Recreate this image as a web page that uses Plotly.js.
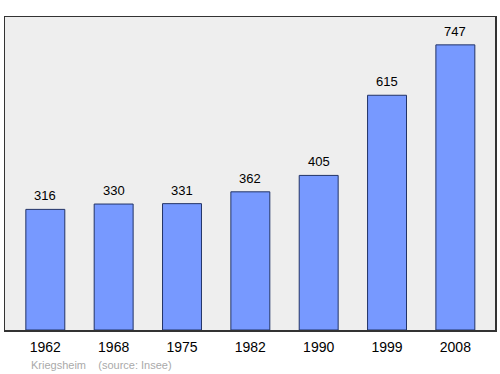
<!DOCTYPE html>
<html><head><meta charset="utf-8">
<script src="https://cdn.plot.ly/plotly-3.0.1.min.js"></script>
<style>body{margin:0;padding:0;}#chart{width:500px;height:374px;}</style>
</head><body><div id="chart"></div>
<script>
const years = ["1962","1968","1975","1982","1990","1999","2008"];
const population = [316,330,331,362,405,615,747];
const labels = population.map(String);

const FONT = "Liberation Sans, Arial, sans-serif";
const trace = {
  type: "bar", x: years, y: population,
  marker: {color: "#7799ff", line: {color: "#223366", width: 1}},
  width: 0.57, hoverinfo: "none"
};
const valueLabels = years.map((yr, i) => ({
  x: i, y: population[i], text: labels[i], xref: "x", yref: "y",
  showarrow: false, xanchor: "center", yanchor: "bottom", yshift: 4,
  font: {family: FONT, size: 13, color: "#000"}
}));
const layout = {
  width: 500, height: 374,
  margin: {l: 5, r: 5, t: 17, b: 44},
  paper_bgcolor: "#ffffff", plot_bgcolor: "#eeeeee",
  showlegend: false,
  xaxis: {type: "category", range: [-0.59, 6.58], showline: true, mirror: true,
    linecolor: "#333", linewidth: 1.5, ticks: "", showgrid: false, ticklabelstandoff: 4,
    tickfont: {family: FONT, size: 14, color: "#000"}},
  yaxis: {range: [0, 820], showline: true, mirror: true, linecolor: "#333", linewidth: 1.5,
    showticklabels: false, ticks: "", showgrid: false, zeroline: false},
  annotations: valueLabels.concat([{text: "Kriegsheim&nbsp;&nbsp;&nbsp;&nbsp;(source: Insee)", xref: "paper", yref: "paper",
    x: 0, y: 0, xshift: 24, yshift: -35, xanchor: "left", yanchor: "middle", showarrow: false,
    font: {family: FONT, size: 11, color: "#aaa"}}])
};
Plotly.newPlot("chart", [trace], layout, {staticPlot: true});
</script></body></html>
